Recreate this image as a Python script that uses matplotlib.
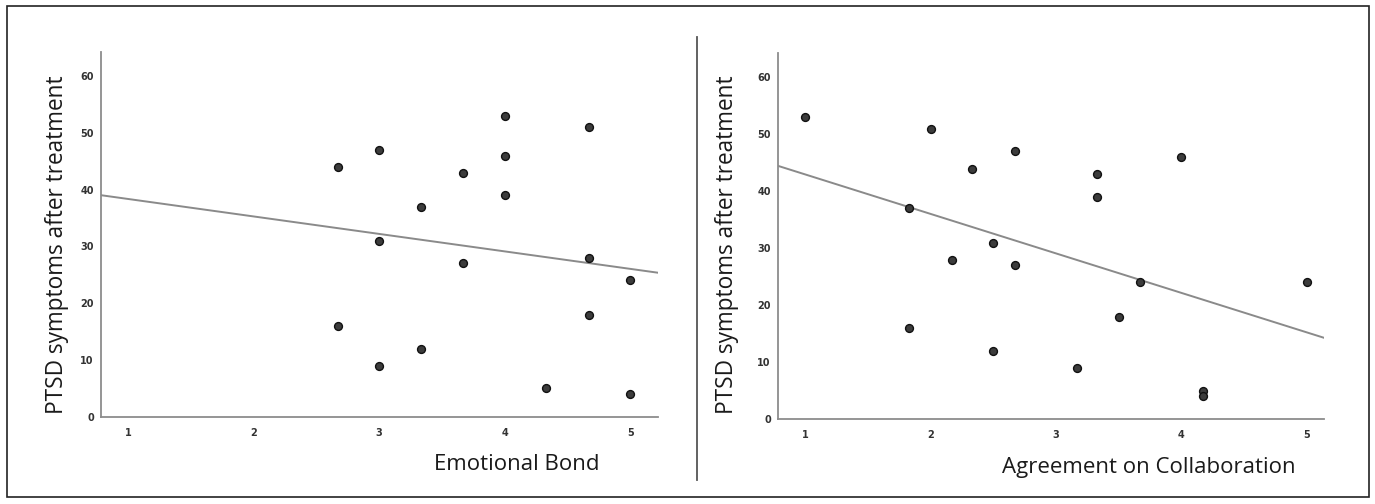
import matplotlib.pyplot as plt
from matplotlib.patches import Rectangle
from matplotlib.lines import Line2D
import numpy as np

# values
bond_x = [2.67, 2.67, 3.0, 3.0, 3.0, 3.33, 3.33, 3.67, 3.67, 4.0, 4.0, 4.0, 4.33, 4.67, 4.67, 4.67, 5.0, 5.0]
bond_y = [44, 16, 47, 31, 9, 37, 12, 43, 27, 53, 46, 39, 5, 51, 28, 18, 24, 4]
bond_fit = (41.44, -3.08)  # intercept, slope

collab_x = [1.0, 1.83, 1.83, 2.0, 2.17, 2.33, 2.5, 2.5, 2.67, 2.67, 3.17, 3.33, 3.33, 3.5, 3.67, 4.0, 4.17, 4.17, 5.0]
collab_y = [53, 37, 16, 51, 28, 44, 31, 12, 47, 27, 9, 43, 39, 18, 24, 46, 5, 4, 24]
collab_fit = (49.91, -6.94)

x_ticks = [1, 2, 3, 4, 5]
y_ticks = [0, 10, 20, 30, 40, 50, 60]
y_label = "PTSD symptoms after treatment"

W, H = 1375, 504
fig = plt.figure(figsize=(W / 100, H / 100), dpi=100)

label_font = "Open Sans"


def panel(rect, xs, ys, fit, xlim, xlabel, xlabel_pos, ylabel_x):
    ax = fig.add_axes(rect)
    ax.scatter(xs, ys, s=32, facecolor="#3c3c3c", edgecolor="#111111", linewidths=1.0, zorder=3)
    lx = np.array(xlim)
    ax.plot(lx, fit[0] + fit[1] * lx, color="#8a8a8a", lw=1.4, zorder=2)
    ax.set_xlim(*xlim)
    ax.set_ylim(0, 64.3)
    ax.set_xticks(x_ticks)
    ax.set_yticks(y_ticks)
    for s in ["top", "right"]:
        ax.spines[s].set_visible(False)
    for s in ["left", "bottom"]:
        ax.spines[s].set_color("#8c8c8c")
        ax.spines[s].set_linewidth(1.3)
    ax.tick_params(length=0, labelsize=7, colors="#333333")
    ax.tick_params(axis="x", pad=8)
    ax.tick_params(axis="y", pad=5)
    for t in ax.get_xticklabels() + ax.get_yticklabels():
        t.set_fontweight("bold")
    fig.text(xlabel_pos[0] / W, 1 - xlabel_pos[1] / H, xlabel, ha="center", va="center",
             fontsize=16, family=label_font, color="#1a1a1a")
    fig.text(ylabel_x / W, 1 - 245 / H, y_label, rotation=90, ha="center", va="center",
             fontsize=16.3, family=label_font, color="#1a1a1a")
    return ax


panel([100.7 / W, 1 - 416.7 / H, (657.5 - 100.7) / W, (416.7 - 51.7) / H],
      bond_x, bond_y, bond_fit, (0.783, 5.216), "Emotional Bond", (517, 465), 57)
panel([777.7 / W, 1 - 419 / H, (1324 - 777.7) / W, (419 - 53) / H],
      collab_x, collab_y, collab_fit, (0.781, 5.136), "Agreement on Collaboration", (1149, 467), 727)

# outer frame and divider
fig.add_artist(Rectangle((7 / W, 1 - 497 / H), (1369 - 7) / W, (497 - 6) / H,
                         transform=fig.transFigure, fill=False, edgecolor="#222222", lw=1.2))
fig.add_artist(Line2D([697 / W, 697 / W], [1 - 480 / H, 1 - 37 / H],
                      transform=fig.transFigure, color="#555555", lw=1.3))

fig.savefig("out.png", dpi=100)
